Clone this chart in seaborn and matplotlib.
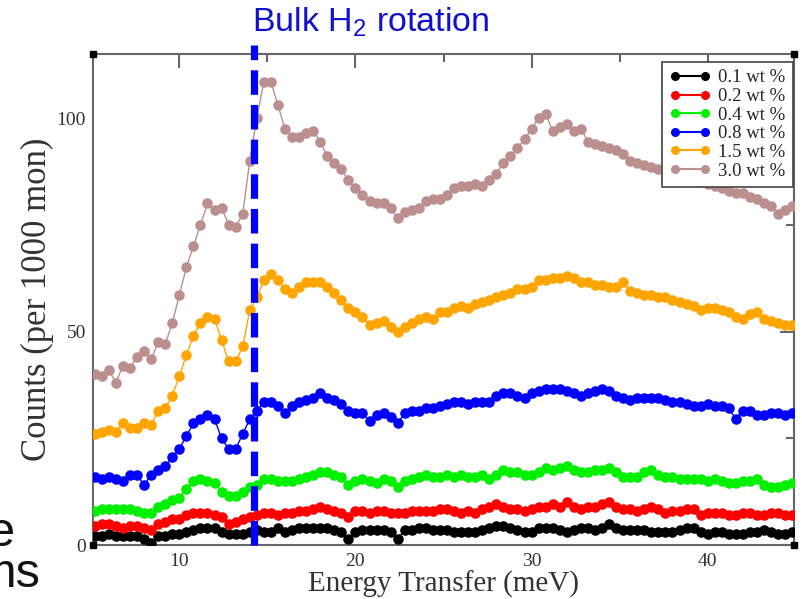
import matplotlib
matplotlib.use("Agg")
import matplotlib.pyplot as plt
from matplotlib.lines import Line2D
from matplotlib.ticker import MultipleLocator
import pandas as pd
import seaborn as sns

# Energy transfer bin centres (meV)
energy = [5.2, 5.6, 6.0, 6.4, 6.8, 7.2, 7.6, 8.0, 8.4, 8.8,
          9.2, 9.6, 10.0, 10.4, 10.8, 11.2, 11.6, 12.0, 12.4, 12.8,
          13.2, 13.6, 14.0, 14.4, 14.8, 15.2, 15.6, 16.0, 16.4, 16.8,
          17.2, 17.6, 18.0, 18.4, 18.8, 19.2, 19.6, 20.0, 20.4, 20.8,
          21.2, 21.6, 22.0, 22.4, 22.8, 23.2, 23.6, 24.0, 24.4, 24.8,
          25.2, 25.6, 26.0, 26.4, 26.8, 27.2, 27.6, 28.0, 28.4, 28.8,
          29.2, 29.6, 30.0, 30.4, 30.8, 31.2, 31.6, 32.0, 32.4, 32.8,
          33.2, 33.6, 34.0, 34.4, 34.8, 35.2, 35.6, 36.0, 36.4, 36.8,
          37.2, 37.6, 38.0, 38.4, 38.8, 39.2, 39.6, 40.0, 40.4, 40.8,
          41.2, 41.6, 42.0, 42.4, 42.8, 43.2, 43.6, 44.0, 44.4, 44.8]

# Counts per 1000 monitor for each H2 loading
counts_01 = [2, 2, 2.5, 2, 2, 2, 2, 1.5, 0.5, 2,
             2, 2.5, 2.5, 3, 3.5, 4, 4, 4, 3, 2.5,
             2.5, 2.5, 3, 3.5, 3, 3, 4, 3, 3.5, 4,
             4, 4, 4, 4, 3.5, 3, 1.5, 3, 3.5, 3.5,
             3.5, 3.5, 3, 1.5, 3.5, 3.5, 4, 4, 3.5, 3.5,
             3.5, 3, 3, 3, 3, 3.5, 4, 4.5, 4.5, 4,
             3.5, 3, 3, 4, 4, 4, 3.5, 3, 3.5, 4,
             4, 3.5, 4, 5, 4, 3.5, 3.5, 3.5, 3.5, 3,
             3, 3, 3, 3.5, 4, 4, 3, 2.5, 3, 3,
             2.5, 2.5, 2.5, 3, 3, 3.5, 3, 2.5, 2.5, 3]
counts_02 = [4.5, 5, 5, 4.5, 4, 4.5, 4.5, 4, 3.5, 5,
             5.5, 6, 6, 7, 7.5, 7.5, 7.5, 7, 6.5, 5,
             5.5, 6, 6.5, 7, 7.5, 7.5, 7, 7.5, 7.5, 8,
             8, 8.5, 9, 8.5, 8, 7.5, 6.5, 8, 8, 7.5,
             8, 8, 7.5, 7.5, 7.5, 8, 8, 8, 8, 8.5,
             8.5, 8, 7.5, 8, 7.5, 8.5, 9, 9.5, 9, 8.5,
             8.5, 8, 8.5, 9, 9, 9.5, 9, 10, 9, 8.5,
             9, 9, 9.5, 10, 9, 8.5, 8.5, 8, 8.5, 9,
             8.5, 7.5, 8, 8, 8.5, 8.5, 7, 7.5, 7.5, 7.5,
             7, 7, 7.5, 7.5, 7, 7, 7.5, 7.5, 7, 7]
counts_04 = [8, 8.5, 8.5, 8.5, 8.5, 8.5, 8, 7.5, 7.5, 9,
             9.5, 10.5, 11, 13, 15, 15.5, 15, 14.5, 12.5, 11.5,
             11.5, 12.5, 13.5, 14, 15.5, 15.5, 15, 15, 15, 15.5,
             16, 16.5, 17, 17, 16.5, 16, 14, 15, 15.5, 15,
             14.5, 15.5, 15, 13.5, 15, 15.5, 16, 16.5, 16, 16,
             16.5, 16, 16.5, 16, 16, 16.5, 15.5, 16.5, 17.5, 17,
             17, 16.5, 16.5, 17, 18, 17.5, 18, 18.5, 17.5, 17,
             17, 17.5, 17.5, 18, 17, 16, 16, 16, 17, 17.5,
             16.5, 16, 16, 15.5, 15.5, 15.5, 15.5, 15, 15.5, 15,
             14.5, 14.5, 15, 15, 15.5, 14, 13.5, 13.5, 14, 14.5]
counts_08 = [16, 15.5, 16, 15.5, 15, 16.5, 16.5, 14, 16.5, 17.5,
             18.5, 20.5, 22.5, 25.5, 28.5, 29.5, 30.5, 29.5, 25, 22.5,
             22.5, 26, 29.5, 31.5, 33.5, 33.5, 32.5, 31, 32.5, 33.5,
             34, 34.5, 35.5, 34.5, 34, 33, 31.5, 31, 31, 29,
             30.5, 31, 30, 28.5, 31, 31.5, 31.5, 32, 32, 32.5,
             33, 33.5, 33.5, 33, 33.5, 33.5, 33.5, 35, 35.5, 35.5,
             35, 34.5, 35.5, 36, 36.5, 36.5, 36.5, 36, 35.5, 35,
             35.5, 36, 36.5, 36, 35, 34.5, 34, 34.5, 34.5, 34.5,
             34.5, 34, 33.5, 33.5, 33, 32.5, 32.5, 33, 32.5, 32.5,
             32, 29.5, 31.5, 31.5, 30.5, 30.5, 31, 31, 30.5, 31]
counts_15 = [26, 26.5, 27, 26.5, 28.5, 27.5, 27.5, 28.5, 28, 31.5,
             32, 35, 39.5, 44.5, 49, 52, 53.5, 53, 48, 43,
             43, 46.5, 55, 58, 62, 63.5, 62, 60, 59, 60.5,
             61.5, 61.5, 61.5, 60.5, 59, 57.5, 55.5, 54.5, 53.5, 51.5,
             52, 52.5, 51, 50, 51, 52, 53, 53.5, 53, 54.5,
             54.5, 55.5, 56, 55.5, 56.5, 57, 57.5, 58, 58.5, 59,
             60, 60, 60.5, 62, 62, 62.5, 62.5, 63, 62.5, 61.5,
             61.5, 61, 61, 60.5, 60.5, 61.5, 59.5, 59, 58.5, 58.5,
             58, 58, 57.5, 57, 56.5, 56, 55, 55.5, 55.5, 55,
             54.5, 53.5, 53, 54, 54.5, 53, 52.5, 52, 51.5, 51.5]
counts_30 = [40, 39.5, 41, 38, 42, 41.5, 44, 45.5, 43.5, 47.5,
             47, 52, 58.5, 65, 70, 75, 80, 78.5, 79, 75,
             74.5, 77.5, 90, 100, 108.5, 108.5, 103, 97.5, 95.5, 95.5,
             96.5, 97, 94.5, 91, 89.5, 88, 85.5, 83.5, 82, 80.5,
             80, 80, 79, 76.5, 78, 78.5, 79, 80.5, 81, 81,
             82, 83.5, 84, 84, 84.5, 84, 85.5, 87, 89.5, 91,
             93, 95, 97.5, 100, 101, 97, 98, 98.5, 97, 97.5,
             94.5, 94, 93.5, 93, 92.5, 91.5, 90, 89.5, 89, 88.5,
             88, 87.5, 87, 86.5, 86, 85.5, 85, 84.5, 84, 83.5,
             83, 82.5, 82.5, 81.5, 81, 80, 79.5, 77.5, 78.5, 79.5]

labels = ["0.1 wt %", "0.2 wt %", "0.4 wt %", "0.8 wt %", "1.5 wt %", "3.0 wt %"]
colors = ["#000000", "#ff0000", "#00f000", "#0000ff", "#ffa500", "#bc8f8f"]
series = [counts_01, counts_02, counts_04, counts_08, counts_15, counts_30]

rotation_energy = 14.25   # bulk H2 J=0->1 rotational line

frames = [pd.DataFrame({"energy": energy, "counts": s, "loading": lab})
          for s, lab in zip(series, labels)]
df = pd.concat(frames, ignore_index=True)

sns.set_style("white")
plt.rcParams["font.family"] = ["Liberation Serif", "DejaVu Serif"]
plt.rcParams["mathtext.fontset"] = "custom"
plt.rcParams["mathtext.rm"] = "Liberation Sans"

fig = plt.figure(figsize=(8.02, 5.99), dpi=100)
ax = fig.add_axes([93 / 802, 1 - 545 / 599, (794 - 93) / 802, (545 - 54) / 599])

palette = dict(zip(labels, colors))
sns.lineplot(data=df, x="energy", y="counts", hue="loading", palette=palette,
             hue_order=labels, estimator=None, sort=False, marker="o",
             markersize=7.6, markeredgewidth=0, linewidth=1.0, legend=False,
             ax=ax, zorder=3)

ax.set_xlim(5.1, 44.9)
ax.set_ylim(0, 115)

# frame and ticks
spine_col = "#666666"
for sp in ax.spines.values():
    sp.set_color(spine_col)
    sp.set_linewidth(1.5)
ax.xaxis.set_major_locator(MultipleLocator(10))
ax.xaxis.set_minor_locator(MultipleLocator(5))
ax.yaxis.set_major_locator(MultipleLocator(50))
ax.yaxis.set_minor_locator(MultipleLocator(25))
ax.tick_params(which="both", direction="in", top=True, right=True,
               color=spine_col, width=1.5, labelsize=14, labelcolor="#333333")
ax.tick_params(which="major", length=10)
ax.tick_params(which="minor", length=6)
ax.tick_params(axis="x", pad=6)
ax.tick_params(axis="y", pad=5)

ax.set_xlabel("Energy Transfer (meV)", fontsize=21, color="#333333", labelpad=0)
ax.set_ylabel("Counts (per 1000 mon)", fontsize=25, color="#333333", labelpad=2)

# small square markers at the frame corners
ax.plot([0, 0, 1, 1], [0, 1, 0, 1], ls="none", marker="s", ms=5, color="black",
        transform=ax.transAxes, clip_on=False, zorder=6)

# dashed marker for the bulk rotational line
ax.plot([rotation_energy, rotation_energy], [0, 117], color="#0000ff",
        linewidth=5.2, dashes=(3.4, 1.4), clip_on=False, zorder=5)

handles = [Line2D([0], [0], color=c, marker="o", markersize=6.5,
                  markeredgewidth=0, linewidth=1.5) for c in colors]
leg = ax.legend(handles, labels, loc="upper right", bbox_to_anchor=(0.998, 0.984),
                borderaxespad=0, numpoints=2, fontsize=13.5, handlelength=2.2,
                handletextpad=0.4, labelspacing=0.08, borderpad=0.4,
                fancybox=False, framealpha=1, edgecolor="#444444")
leg.get_frame().set_linewidth(1.2)
leg.set_zorder(7)

fig.text(252 / 802, 1 - 22 / 599, r"Bulk H$_\mathregular{2}$ rotation",
         family=["Liberation Sans", "DejaVu Sans"], fontsize=24.5, color="#1010d0",
         ha="left", va="center")

# partial slide text on the left
fig.text(15 / 802, 1 - 546 / 599, "e", family=["Liberation Sans", "DejaVu Sans"],
         fontsize=35, color="#111111", ha="right", va="baseline")
fig.text(41 / 802, 1 - 587 / 599, "ms", family=["Liberation Sans", "DejaVu Sans"],
         fontsize=35, color="#111111", ha="right", va="baseline")

fig.savefig("out.png", dpi=100)
